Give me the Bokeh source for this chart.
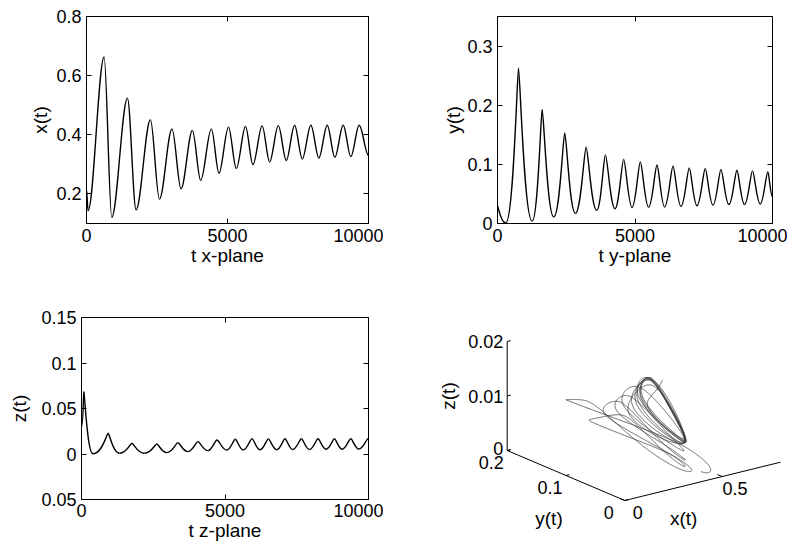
import numpy as np
from bokeh.plotting import figure
from bokeh.layouts import column, row
from bokeh.models import Range1d, LinearAxis, FixedTicker, CustomJSTickFormatter
from bokeh.embed import file_html
from bokeh.resources import INLINE
from bokeh.core.properties import value

# ---------------- data ----------------
T_TICKS = [0, 5000, 10000]
T_LABELS = ["0", "5000", "10000"]

# x(t): start, then alternating troughs / peaks
X_T = [0, 57, 624, 896, 1452, 1758, 2267, 2586, 3033, 3352, 3755, 4049, 4428, 4698,
       5035, 5313, 5638, 5902, 6228, 6494, 6801, 7085, 7379, 7652, 7957, 8240, 8536,
       8807, 9103, 9375, 9670, 10000]
X_V = [0.214, 0.143, 0.663, 0.121, 0.524, 0.146, 0.451, 0.182, 0.420, 0.217, 0.415,
       0.246, 0.420, 0.270, 0.426, 0.286, 0.428, 0.299, 0.430, 0.308, 0.431, 0.313,
       0.432, 0.318, 0.432, 0.321, 0.432, 0.324, 0.432, 0.326, 0.432, 0.330]
X_TICKS = [0.2, 0.4, 0.6, 0.8]
X_TICK_LABELS = ["0.2", "0.4", "0.6", "0.8"]

# y(t)
Y_T = [0, 300, 763, 1260, 1623, 2046, 2445, 2833, 3222, 3608, 3923, 4274, 4588, 4893,
       5194, 5496, 5801, 6077, 6382, 6673, 6974, 7254, 7555, 7835, 8125, 8416, 8707,
       8983, 9273, 9553, 9832, 10000]
Y_V = [0.03, 0.0008, 0.263, 0.004, 0.193, 0.011, 0.153, 0.017, 0.129, 0.022, 0.116,
       0.025, 0.1085, 0.027, 0.104, 0.0275, 0.099, 0.028, 0.097, 0.029, 0.094, 0.030,
       0.093, 0.031, 0.0915, 0.032, 0.090, 0.032, 0.089, 0.033, 0.0876, 0.045]
Y_TICKS = [0, 0.1, 0.2, 0.3]
Y_TICK_LABELS = ["0", "0.1", "0.2", "0.3"]

# z(t)
Z_T = [0, 80, 400, 931, 1325, 1755, 2197, 2627, 2976, 3359, 3708, 4057, 4406, 4720,
       5060, 5360, 5640, 5941, 6220, 6511, 6801, 7092, 7360, 7663, 7942, 8242, 8521,
       8814, 9079, 9383, 9662, 10000]
Z_V = [0.03, 0.0687, 0.0003, 0.0228, 0.0008, 0.0118, 0.0008, 0.011, 0.0015, 0.0125,
       0.0026, 0.0136, 0.0037, 0.0154, 0.0042, 0.0162, 0.0044, 0.0169, 0.0046, 0.0166,
       0.0047, 0.0167, 0.005, 0.0167, 0.005, 0.0167, 0.0052, 0.0167, 0.0053, 0.0167,
       0.0055, 0.0172]
Z_TICKS = [-0.05, 0, 0.05, 0.1, 0.15]
Z_TICK_LABELS = ["0.05", "0", "0.05", "0.1", "0.15"]

# 3-D phase plot
P3_START = 1250
P3_X_TICKS = [0, 0.5]
P3_X_LABELS = ["0", "0.5"]
P3_Y_TICKS = [0, 0.1, 0.2]
P3_Y_LABELS = ["0", "0.1", "0.2"]
P3_Z_TICKS = [0, 0.01, 0.02]
P3_Z_LABELS = ["0", "0.01", "0.02"]
P3_LIM = (0.8, 0.2, 0.02)

FONT = "Liberation Sans"
TICK_FS = "18px"
LAB_FS = "19px"


# ---------------- curve helpers ----------------
def bezier_parts(ts, vs, kp0, kp1, kt0, kt1, ramp):
    ts = np.asarray(ts, float)
    vs = np.asarray(vs, float)
    n = len(ts) - 1
    out = {k: [] for k in ("x0", "y0", "x1", "y1", "cx0", "cy0", "cx1", "cy1")}
    for i in range(n):
        s = min(1.0, i / ramp) if ramp else 1.0
        kp = kp0 + (kp1 - kp0) * s
        kt = kt0 + (kt1 - kt0) * s
        t0, t1, v0, v1 = ts[i], ts[i + 1], vs[i], vs[i + 1]
        dt = t1 - t0
        a, b = (kp, kt) if v0 > v1 else (kt, kp)
        out["x0"].append(t0); out["y0"].append(v0)
        out["x1"].append(t1); out["y1"].append(v1)
        out["cx0"].append(t0 + a * dt); out["cy0"].append(v0)
        out["cx1"].append(t1 - b * dt); out["cy1"].append(v1)
    return out


def eval_parts(parts, n=80):
    u = np.linspace(0, 1, n)
    b0, b1, b2, b3 = (1 - u) ** 3, 3 * u * (1 - u) ** 2, 3 * u ** 2 * (1 - u), u ** 3
    tt, vv = [], []
    for i in range(len(parts["x0"])):
        t = b0 * parts["x0"][i] + b1 * parts["cx0"][i] + b2 * parts["cx1"][i] + b3 * parts["x1"][i]
        v = b0 * parts["y0"][i] + b1 * parts["cy0"][i] + b2 * parts["cy1"][i] + b3 * parts["y1"][i]
        tt.append(t[:-1]); vv.append(v[:-1])
    return np.concatenate(tt), np.concatenate(vv)


def fmt(ticks, labels):
    return CustomJSTickFormatter(args=dict(tk=list(ticks), lb=list(labels)), code="""
        for (let i = 0; i < tk.length; i++) {
            if (Math.abs(tk[i] - tick) < 1e-9) { return lb[i]; }
        }
        return '';
    """)


def style_axis(ax, ticks, labels):
    ax.ticker = FixedTicker(ticks=ticks)
    ax.formatter = fmt(ticks, labels)
    ax.major_tick_in = 5
    ax.major_tick_out = 0
    ax.minor_tick_line_color = None
    ax.axis_line_color = "black"
    ax.major_tick_line_color = "black"
    ax.major_label_text_font = FONT
    ax.major_label_text_font_size = TICK_FS
    ax.major_label_text_color = "black"
    ax.axis_label_text_font = FONT
    ax.axis_label_text_font_size = LAB_FS
    ax.axis_label_text_font_style = "normal"
    ax.axis_label_text_color = "black"


def ts_panel(parts, yr, yticks, ylabels, ylab, xlab, w, h, bl, br, bt, bb,
             ylab_standoff=2, xtick_standoff=5):
    p = figure(width=w, height=h, x_range=Range1d(0, 10000), y_range=Range1d(*yr),
               output_backend="svg", toolbar_location=None,
               min_border_left=bl, min_border_right=br, min_border_top=bt, min_border_bottom=bb)
    p.grid.visible = False
    p.outline_line_color = "black"
    p.outline_line_alpha = 1
    p.outline_line_width = 1
    p.background_fill_color = "white"
    p.border_fill_color = "white"
    style_axis(p.xaxis[0], T_TICKS, T_LABELS)
    style_axis(p.yaxis[0], yticks, ylabels)
    p.xaxis[0].axis_label = xlab
    p.yaxis[0].axis_label = ylab
    p.yaxis[0].major_label_standoff = 5
    p.yaxis[0].axis_label_standoff = ylab_standoff
    p.xaxis[0].major_label_standoff = xtick_standoff
    p.xaxis[0].axis_label_standoff = 0
    top = LinearAxis()
    right = LinearAxis()
    for ax, tk in ((top, T_TICKS), (right, yticks)):
        style_axis(ax, tk, ["" for _ in tk])
        ax.major_label_text_font_size = "0px"
        ax.major_label_standoff = 0
        ax.axis_line_color = None
    p.add_layout(top, "above")
    p.add_layout(right, "right")
    p.bezier(x0="x0", y0="y0", x1="x1", y1="y1", cx0="cx0", cy0="cy0", cx1="cx1", cy1="cy1",
             source=parts, line_color="black", line_width=1.4)
    return p


x_parts = bezier_parts(X_T, X_V, 0.34, 0.34, 0.34, 0.34, 0)
y_parts = bezier_parts(Y_T, Y_V, 0.08, 0.24, 0.62, 0.44, 12)
z_parts = bezier_parts(Z_T, Z_V, 0.08, 0.22, 0.65, 0.45, 12)

p1 = ts_panel(x_parts, (0.1, 0.8), X_TICKS, X_TICK_LABELS, "x(t)", "t x-plane",
              383, 273, 86, 15, 16, 50, ylab_standoff=2)
p2 = ts_panel(y_parts, (0, 0.35), Y_TICKS, Y_TICK_LABELS, "y(t)", "t y-plane",
              404, 273, 114, 15, 16, 50, ylab_standoff=0)
p3 = ts_panel(z_parts, (-0.05, 0.15), Z_TICKS, Z_TICK_LABELS, "z(t)", "t z-plane",
              383, 272, 81, 15, 44, 46, ylab_standoff=8, xtick_standoff=4)

# ---------------- 3-D panel (orthographic projection) ----------------
# panel coordinates: 1 unit = 1 screen pixel, origin at the panel's lower-left corner
W4, H4 = 405, 272
p4 = figure(width=W4, height=H4, x_range=Range1d(0, W4), y_range=Range1d(0, H4),
            output_backend="svg", toolbar_location=None, x_axis_type=None, y_axis_type=None,
            min_border=0)
p4.frame_align = False
p4.grid.visible = False
p4.outline_line_color = None

ORIG = np.array([241.3, 45.0])          # screen position of (0,0,0)
EX = np.array([155.7, 38.3]) / P3_LIM[0]
EY = np.array([-117.6, 50.0]) / P3_LIM[1]
EZ = np.array([0.0, 109.0]) / P3_LIM[2]


def proj(x, y, z):
    x = np.asarray(x, float); y = np.asarray(y, float); z = np.asarray(z, float)
    return ORIG[0] + x * EX[0] + y * EY[0] + z * EZ[0], ORIG[1] + x * EX[1] + y * EY[1] + z * EZ[1]


tx, vx = eval_parts(x_parts)
ty, vy = eval_parts(y_parts)
tz, vz = eval_parts(z_parts)
tg = np.linspace(P3_START, 10000, 8000)
gx = np.interp(tg, tx, vx)
gy = np.interp(tg, ty, vy)
gz = np.interp(tg, tz, vz)
sx, sy = proj(gx, gy, gz)
p4.line(sx, sy, line_color="#3c3c3c", line_width=0.8)

xl, yl, zl = P3_LIM
# axes
ax_pts = [((0, yl, 0), (0, yl, zl)), ((0, yl, 0), (0, 0, 0)), ((0, 0, 0), (xl, 0, 0))]
for a, b in ax_pts:
    xs, ys = proj([a[0], b[0]], [a[1], b[1]], [a[2], b[2]])
    p4.line(xs, ys, line_color="black", line_width=1)

# ticks
for zt in P3_Z_TICKS:
    xs, ys = proj([0, 0.018], [yl, yl], [zt, zt])
    p4.line(xs, ys, line_color="black", line_width=1)
for yt in P3_Y_TICKS:
    xs, ys = proj([0, 0.018], [yt, yt], [0, 0])
    p4.line(xs, ys, line_color="black", line_width=1)
for xt in P3_X_TICKS:
    xs, ys = proj([xt, xt], [0, 0.008], [0, 0])
    p4.line(xs, ys, line_color="black", line_width=1)

tf = value(FONT)


def labels(x, y, text, size, align="center", angle=0.0):
    p4.text(list(np.atleast_1d(x)), list(np.atleast_1d(y)), text=list(text), angle=angle,
            text_font=tf, text_font_size=size, text_align=align,
            text_baseline="middle", text_color="black")


zx, zy = proj([0] * 3, [yl] * 3, P3_Z_TICKS)
labels(zx - 4, zy + np.array([2, 0, 0]), P3_Z_LABELS, TICK_FS, align="right")
yx, yy = proj([0] * 3, P3_Y_TICKS, [0] * 3)
labels(yx - 16, yy - 12, P3_Y_LABELS, TICK_FS)
xx, xy = proj(P3_X_TICKS, [0] * 2, [0] * 2)
labels(xx + 13, xy - 12, P3_X_LABELS, TICK_FS)

lx, ly = proj([0], [yl], [zl / 2])
labels(lx - 59, ly, ["z(t)"], LAB_FS, angle=np.pi / 2)
lx, ly = proj([0], [yl / 2], [0])
labels(lx - 17, ly - 43, ["y(t)"], LAB_FS)
lx, ly = proj([xl / 2], [0], [0])
labels(lx - 19, ly - 37, ["x(t)"], LAB_FS)

layout = column(row(p1, p2), row(p3, p4))
open("out.html", "w").write(file_html(layout, INLINE))
